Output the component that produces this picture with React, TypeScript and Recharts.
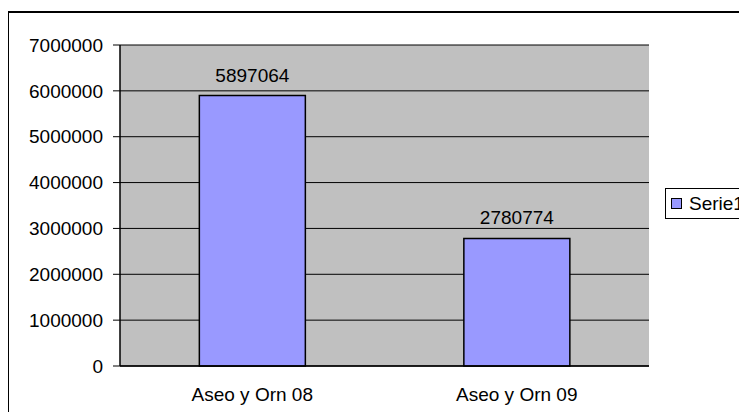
import {
  BarChart,
  Bar,
  XAxis,
  YAxis,
  CartesianGrid,
  Legend,
  LabelList,
} from 'recharts';

const categories = ['Aseo y Orn 08', 'Aseo y Orn 09'];
const serie1 = [5897064, 2780774];
const yTicks = [0, 1000000, 2000000, 3000000, 4000000, 5000000, 6000000, 7000000];
const edgeTicks = [0, 1, 2];

const data = categories.map((name, i) => ({ name, Serie1: serie1[i] }));

const font = '"Liberation Sans", Arial, sans-serif';
const fontSize = 19;

const LegendBox = () => (
  <div
    style={{
      display: 'flex',
      alignItems: 'center',
      border: '1.5px solid #000',
      background: '#fff',
      height: 29,
      paddingLeft: 5,
      width: 200,
      fontFamily: font,
      fontSize,
      color: '#000',
      whiteSpace: 'nowrap',
    }}
  >
    <span
      style={{
        display: 'inline-block',
        width: 9,
        height: 9,
        background: '#9999FF',
        border: '1px solid #000',
        marginRight: 7,
      }}
    />
    Serie1
  </div>
);

const App = () => {
  return (
    <div style={{ position: 'relative', width: 739, height: 404, overflow: 'hidden' }}>
      <div
        style={{
          position: 'absolute',
          left: -1,
          top: 3,
          width: 900,
          height: 600,
          border: '2px solid #000',
        }}
      />
      <BarChart
        width={739}
        height={404}
        data={data}
        margin={{ top: 37, right: 98, bottom: 0, left: 0 }}
        barCategoryGap="30%"
        style={{ fontFamily: font }}
      >
        <CartesianGrid
          fill="#C0C0C0"
          stroke="#000"
          strokeOpacity={1}
          vertical={false}
        />
        <XAxis
          xAxisId="edge"
          type="number"
          domain={[0, 2]}
          ticks={edgeTicks}
          allowDataOverflow
          height={0}
          axisLine={false}
          tickSize={6}
          tickLine={{ stroke: '#000' }}
          tick={() => <g />}
        />
        <XAxis
          dataKey="name"
          height={46}
          axisLine={{ stroke: '#000', strokeWidth: 1.5 }}
          tickLine={false}
          tickSize={0}
          tickMargin={22}
          tick={{ fill: '#000', fontSize }}
        />
        <XAxis
          xAxisId="top"
          orientation="top"
          height={0}
          axisLine={{ stroke: '#808080' }}
          tick={false}
          tickLine={false}
        />
        <YAxis
          domain={[0, 7000000]}
          ticks={yTicks}
          width={112}
          interval={0}
          axisLine={{ stroke: '#000', strokeWidth: 1.5 }}
          tickLine={{ stroke: '#000' }}
          tickSize={7}
          tickMargin={10}
          tick={{ fill: '#000', fontSize }}
        />
        <YAxis
          yAxisId="r"
          orientation="right"
          width={0}
          axisLine={{ stroke: '#808080' }}
          tick={false}
          tickLine={false}
        />
        <Legend
          layout="horizontal"
          verticalAlign="middle"
          align="center"
          wrapperStyle={{ left: 657, top: 180, width: 200 }}
          content={() => <LegendBox />}
        />
        <Bar
          dataKey="Serie1"
          fill="#9999FF"
          stroke="#000"
          strokeWidth={1.5}
          isAnimationActive={false}
        >
          <LabelList
            dataKey="Serie1"
            position="top"
            offset={14}
            fill="#000"
            fontSize={fontSize}
          />
        </Bar>
      </BarChart>
    </div>
  );
};

export default App;
